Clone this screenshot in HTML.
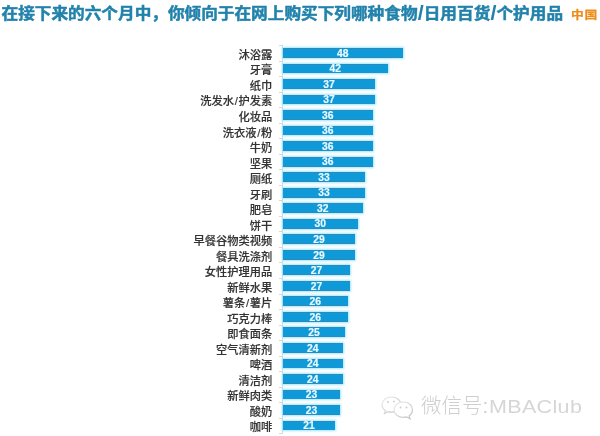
<!DOCTYPE html>
<html lang="zh"><head><meta charset="utf-8"><title>chart</title>
<style>
html,body{margin:0;padding:0;background:#fff}
body{width:600px;height:436px;position:relative;overflow:hidden;font-family:"Liberation Sans","Noto Sans CJK SC",sans-serif}
.t{position:absolute;left:1.5px;top:2.2px;transform:scaleY(0.93);transform-origin:0 50%;height:24px;line-height:24px;font-size:16.65px;font-weight:bold;color:#2182ab;-webkit-text-stroke:0.5px #2182ab;white-space:nowrap}
.t i{font-style:normal;font-size:21.5px;line-height:0;padding:0 0.1px;position:relative;top:1.3px;-webkit-text-stroke:0}
.cn{position:absolute;left:571.3px;top:4.5px;height:20px;line-height:20px;font-size:11.3px;letter-spacing:0.6px;transform:scaleX(1.13);transform-origin:0 0;font-weight:bold;color:#ee8c1a;-webkit-text-stroke:0.25px #ee8c1a;white-space:nowrap}
.ax{position:absolute;left:282px;top:45px;width:1px;height:388.5px;background:#c4e4f2}
.k{position:absolute;left:279px;width:3px;height:1px;background:#ddd6cc}
.r{position:absolute;left:0;width:600px;height:9.8px}
.l{position:absolute;right:327.8px;top:-1.2px;height:16px;line-height:16px;font-size:11.25px;font-weight:500;color:#333;-webkit-text-stroke:0.15px #333;white-space:nowrap}
.l i{font-style:normal;padding:0 0.6px}
.b{position:absolute;left:283px;top:0;height:9.8px;line-height:10.4px;background:linear-gradient(to bottom,#2789b6 0,#1996d2 1.3px,#0e9ad9 2.4px,#0e9ad9 7.400px,#1996d2 8.500px,#2789b6 100%);box-shadow:0 0 2px 1px rgba(130,220,252,.75);color:#f2fbff;font-weight:bold;font-size:10px;-webkit-text-stroke:0.3px #f2fbff;text-align:center}
.n{position:absolute;left:283px;height:12px;line-height:12px;color:#eafaff;font-weight:bold;font-size:10.3px;letter-spacing:0.1px;-webkit-text-stroke:0.2px #eafaff;text-align:center}
.wm{position:absolute;left:421px;top:392.3px;height:28px;line-height:28px;font-size:20.5px;font-weight:300;color:#cfcfcf;white-space:nowrap;text-shadow:-0.5px -0.5px 0.5px #fff}
.wm b{display:inline-block;font-weight:normal;color:#d6d6d6;font-size:18.7px;letter-spacing:0.3px;margin-left:1px;transform:scaleX(1.15);transform-origin:0 50%}
.ic{position:absolute;left:380px;top:394px}
</style></head><body>
<div class="t">在接下来的六个月中，你倾向于在网上购买下列哪种食物<i>/</i>日用百货<i>/</i>个护用品</div>
<div class="cn">中国</div>
<div class="ax"></div>
<div class="k" style="top:45.20px"></div>
<div class="k" style="top:60.72px"></div>
<div class="k" style="top:76.24px"></div>
<div class="k" style="top:91.76px"></div>
<div class="k" style="top:107.28px"></div>
<div class="k" style="top:122.80px"></div>
<div class="k" style="top:138.32px"></div>
<div class="k" style="top:153.84px"></div>
<div class="k" style="top:169.36px"></div>
<div class="k" style="top:184.88px"></div>
<div class="k" style="top:200.40px"></div>
<div class="k" style="top:215.92px"></div>
<div class="k" style="top:231.44px"></div>
<div class="k" style="top:246.96px"></div>
<div class="k" style="top:262.48px"></div>
<div class="k" style="top:278.00px"></div>
<div class="k" style="top:293.52px"></div>
<div class="k" style="top:309.04px"></div>
<div class="k" style="top:324.56px"></div>
<div class="k" style="top:340.08px"></div>
<div class="k" style="top:355.60px"></div>
<div class="k" style="top:371.12px"></div>
<div class="k" style="top:386.64px"></div>
<div class="k" style="top:402.16px"></div>
<div class="k" style="top:417.68px"></div>
<div class="k" style="top:433.20px"></div>
<div class="r" style="top:48.10px"><span class="l">沐浴露</span><span class="b" style="width:119.5px"></span></div><div class="n" style="top:48px;width:119.5px">48</div>
<div class="r" style="top:63.62px"><span class="l">牙膏</span><span class="b" style="width:104.5px"></span></div><div class="n" style="top:63px;width:104.5px">42</div>
<div class="r" style="top:79.14px"><span class="l">纸巾</span><span class="b" style="width:92.0px"></span></div><div class="n" style="top:79px;width:92.0px">37</div>
<div class="r" style="top:94.66px"><span class="l">洗发水<i>/</i>护发素</span><span class="b" style="width:92.0px"></span></div><div class="n" style="top:94px;width:92.0px">37</div>
<div class="r" style="top:110.18px"><span class="l">化妆品</span><span class="b" style="width:89.5px"></span></div><div class="n" style="top:110px;width:89.5px">36</div>
<div class="r" style="top:125.70px"><span class="l">洗衣液<i>/</i>粉</span><span class="b" style="width:89.5px"></span></div><div class="n" style="top:125px;width:89.5px">36</div>
<div class="r" style="top:141.22px"><span class="l">牛奶</span><span class="b" style="width:89.5px"></span></div><div class="n" style="top:141px;width:89.5px">36</div>
<div class="r" style="top:156.74px"><span class="l">坚果</span><span class="b" style="width:89.5px"></span></div><div class="n" style="top:156px;width:89.5px">36</div>
<div class="r" style="top:172.26px"><span class="l">厕纸</span><span class="b" style="width:82.0px"></span></div><div class="n" style="top:172px;width:82.0px">33</div>
<div class="r" style="top:187.78px"><span class="l">牙刷</span><span class="b" style="width:82.0px"></span></div><div class="n" style="top:187px;width:82.0px">33</div>
<div class="r" style="top:203.30px"><span class="l">肥皂</span><span class="b" style="width:79.5px"></span></div><div class="n" style="top:203px;width:79.5px">32</div>
<div class="r" style="top:218.82px"><span class="l">饼干</span><span class="b" style="width:74.5px"></span></div><div class="n" style="top:218px;width:74.5px">30</div>
<div class="r" style="top:234.34px"><span class="l">早餐谷物类视频</span><span class="b" style="width:72.0px"></span></div><div class="n" style="top:234px;width:72.0px">29</div>
<div class="r" style="top:249.86px"><span class="l">餐具洗涤剂</span><span class="b" style="width:72.0px"></span></div><div class="n" style="top:250px;width:72.0px">29</div>
<div class="r" style="top:265.38px"><span class="l">女性护理用品</span><span class="b" style="width:67.0px"></span></div><div class="n" style="top:265px;width:67.0px">27</div>
<div class="r" style="top:280.90px"><span class="l">新鲜水果</span><span class="b" style="width:67.0px"></span></div><div class="n" style="top:281px;width:67.0px">27</div>
<div class="r" style="top:296.42px"><span class="l">薯条<i>/</i>薯片</span><span class="b" style="width:64.5px"></span></div><div class="n" style="top:296px;width:64.5px">26</div>
<div class="r" style="top:311.94px"><span class="l">巧克力棒</span><span class="b" style="width:64.5px"></span></div><div class="n" style="top:312px;width:64.5px">26</div>
<div class="r" style="top:327.46px"><span class="l">即食面条</span><span class="b" style="width:62.0px"></span></div><div class="n" style="top:327px;width:62.0px">25</div>
<div class="r" style="top:342.98px"><span class="l">空气清新剂</span><span class="b" style="width:59.5px"></span></div><div class="n" style="top:343px;width:59.5px">24</div>
<div class="r" style="top:358.50px"><span class="l">啤酒</span><span class="b" style="width:59.5px"></span></div><div class="n" style="top:358px;width:59.5px">24</div>
<div class="r" style="top:374.02px"><span class="l">清洁剂</span><span class="b" style="width:59.5px"></span></div><div class="n" style="top:374px;width:59.5px">24</div>
<div class="r" style="top:389.54px"><span class="l">新鲜肉类</span><span class="b" style="width:57.0px"></span></div><div class="n" style="top:389px;width:57.0px">23</div>
<div class="r" style="top:405.06px"><span class="l">酸奶</span><span class="b" style="width:57.0px"></span></div><div class="n" style="top:405px;width:57.0px">23</div>
<div class="r" style="top:420.58px"><span class="l">咖啡</span><span class="b" style="width:52.0px"></span></div><div class="n" style="top:420px;width:52.0px">21</div>
<svg class="ic" width="36" height="28" viewBox="0 0 36 28"><defs><linearGradient id="g" x1="0" y1="0" x2="1" y2="1"><stop offset="0" stop-color="#ececec"/><stop offset="1" stop-color="#c2c2c2"/></linearGradient></defs><g fill="#fff" stroke="url(#g)" stroke-width="1.200"><path d="M11.500 3C6.200 3 2 6.400 2 10.700c0 2.400 1.300 4.500 3.400 5.900L4.500 19.500l3.400-1.800c1.100.3 2.300.5 3.600.5 5.300 0 9.500-3.400 9.500-7.500S16.800 3 11.500 3z"/><path d="M23.500 8c-5.200 0-9.500 3.400-9.500 7.700s4.300 7.700 9.500 7.700c1.100 0 2.200-.2 3.200-.5l3.300 1.800-.900-2.900c2-1.400 3.400-3.600 3.400-6.100 0-4.300-3.800-7.700-9-7.700z"/></g><g fill="#cdcdcd"><circle cx="8" cy="8" r="1"/><circle cx="14" cy="7.500" r="1"/><circle cx="20.500" cy="13.500" r="1"/><circle cx="26.500" cy="13.500" r="1"/></g></svg>
<div class="wm">微信号:<b>MBAClub</b></div>
</body></html>
